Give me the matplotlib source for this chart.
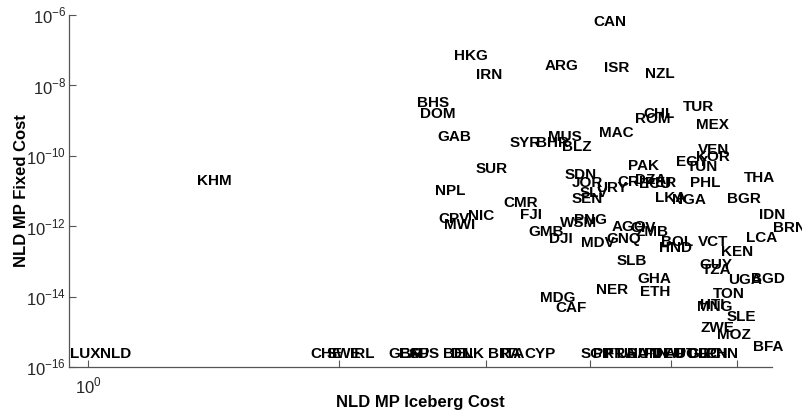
import matplotlib
matplotlib.use("Agg")
import matplotlib.pyplot as plt

plt.rcParams['font.family'] = ['Liberation Sans', 'DejaVu Sans']
plt.rcParams['mathtext.fontset'] = 'custom'
plt.rcParams['mathtext.rm'] = 'Liberation Sans'

# country codes, iceberg cost (x) and fixed cost (y)
countries = ['KHM', 'CAN', 'HKG', 'IRN', 'ARG', 'ISR', 'NZL', 'BHS', 'DOM', 'GAB',
             'SYR', 'BHR', 'MUS', 'BLZ', 'MAC', 'CHL', 'ROM', 'TUR', 'MEX', 'VEN',
             'KOR', 'EGY', 'TUN', 'PAK', 'SDN', 'JOR', 'SLV', 'URY', 'SEN', 'CRI',
             'DZA', 'PER', 'ECU', 'LKA', 'NGA', 'PHL', 'THA', 'BGR', 'SUR', 'NPL',
             'CMR', 'CPV', 'MWI', 'NIC', 'FJI', 'GMB', 'DJI', 'PNG', 'WSM', 'MDV',
             'AGO', 'GNQ', 'ZMB', 'CIV', 'BOL', 'HND', 'VCT', 'KEN', 'IDN', 'BRN',
             'LCA', 'SLB', 'GUY', 'TZA', 'UGA', 'BGD', 'GHA', 'ETH', 'NER', 'TON',
             'MNG', 'HTI', 'MDG', 'CAF', 'SLE', 'ZWE', 'MOZ', 'BFA']
iceberg = [1.416, 4.23, 2.88, 3.03, 3.70, 4.30, 4.85, 2.59, 2.63, 2.75,
           3.34, 3.61, 3.73, 3.86, 4.30, 4.84, 4.75, 5.39, 5.60, 5.62,
           5.62, 5.30, 5.46, 4.64, 3.90, 3.97, 4.04, 4.25, 3.97, 4.47,
           4.73, 4.86, 4.79, 5.00, 5.26, 5.49, 6.38, 6.12, 3.05, 2.72,
           3.30, 2.75, 2.79, 2.96, 3.40, 3.54, 3.69, 4.00, 3.87, 4.09,
           4.45, 4.39, 4.75, 4.63, 5.08, 5.07, 5.62, 6.00, 6.61, 6.93,
           6.43, 4.49, 5.66, 5.67, 6.13, 6.54, 4.77, 4.79, 4.25, 5.87,
           5.65, 5.60, 3.66, 3.79, 6.08, 5.69, 5.95, 6.54]
fixed = [1.92e-11, 6.3e-7, 6.84e-8, 1.97e-8, 3.56e-8, 3.12e-8, 2.11e-8, 3.16e-9, 1.54e-9, 3.42e-10,
         2.31e-10, 2.31e-10, 3.42e-10, 1.78e-10, 4.45e-10, 1.54e-9, 1.11e-9, 2.43e-9, 7.50e-10, 1.46e-10,
         9.25e-11, 6.67e-11, 4.81e-11, 5.13e-11, 2.85e-11, 1.69e-11, 8.77e-12, 1.22e-11, 5.93e-12, 1.80e-11,
         2.06e-11, 1.69e-11, 1.58e-11, 6.32e-12, 5.54e-12, 1.69e-11, 2.34e-11, 5.93e-12, 4.22e-11, 1.0e-11,
         4.56e-12, 1.60e-12, 1.08e-12, 1.95e-12, 2.08e-12, 6.84e-13, 4.32e-13, 1.50e-12, 1.23e-12, 3.33e-13,
         9.48e-13, 4.32e-13, 6.84e-13, 8.89e-13, 3.56e-13, 2.40e-13, 3.56e-13, 1.85e-13, 2.08e-12, 8.89e-13,
         4.62e-13, 1.03e-13, 7.91e-14, 5.70e-14, 2.96e-14, 3.16e-14, 3.16e-14, 1.35e-14, 1.54e-14, 1.19e-14,
         5.07e-15, 5.77e-15, 9.12e-15, 4.74e-15, 2.63e-15, 1.28e-15, 8.11e-16, 3.70e-16]

# countries with (near) zero fixed cost, drawn along the floor
floor_countries = ['LUX', 'NLD', 'CHE', 'SWE', 'IRL', 'GBR', 'ESP', 'AUS', 'BEL', 'DNK',
                   'BRA', 'ITA', 'CYP', 'SGP', 'PRT', 'FRA', 'USA', 'HUN', 'FIN', 'DEU',
                   'AUT', 'POL', 'GRC', 'JPN', 'CHN']
floor_iceberg = [0.992, 1.08, 1.934, 2.03, 2.13, 2.40, 2.46, 2.53, 2.78, 2.85,
                 3.16, 3.23, 3.48, 4.07, 4.20, 4.35, 4.49, 4.64, 4.80, 4.96,
                 5.13, 5.30, 5.48, 5.63, 5.76]
floor_fixed = 2.3e-16

xticks = [1, 2, 3, 4, 5, 6]
xticklabels = ['$10^{0}$', '', '', '', '', '']
yticks = [1e-16, 1e-14, 1e-12, 1e-10, 1e-8, 1e-6]
yticklabels = ['$10^{-16}$', '$10^{-14}$', '$10^{-12}$', '$10^{-10}$', '$10^{-8}$', '$10^{-6}$']

fig = plt.figure(figsize=(8.02, 4.19), dpi=100)
ax = fig.add_axes([0.086, 0.1241, 0.8766, 0.8401])
ax.set_xscale('log')
ax.set_yscale('log')
ax.set_xlim(0.949, 6.61)
ax.set_ylim(1e-16, 1e-6)

for name, x, y in zip(countries, iceberg, fixed):
    ax.text(x, y, name, ha='center', va='center', fontsize=11,
            fontweight='bold', color='black', clip_on=False)
for name, x in zip(floor_countries, floor_iceberg):
    ax.text(x, floor_fixed, name, ha='center', va='center', fontsize=11,
            fontweight='bold', color='black', clip_on=False)

ax.set_xticks(xticks)
ax.set_xticklabels(xticklabels)
ax.set_yticks(yticks)
ax.set_yticklabels(yticklabels)
ax.minorticks_off()
ax.tick_params(direction='in', length=5, width=0.8, colors='#555555',
               labelcolor='#262626', labelsize=12)
ax.tick_params(axis='x', pad=6)
ax.tick_params(axis='y', pad=2)

for side in ['top', 'right']:
    ax.spines[side].set_visible(False)
for side in ['left', 'bottom']:
    ax.spines[side].set_color('#555555')
    ax.spines[side].set_linewidth(0.9)

ax.set_xlabel('NLD MP Iceberg Cost', fontsize=12, fontweight='bold', va='center')
ax.set_ylabel('NLD MP Fixed Cost', fontsize=12, fontweight='bold', va='center')
ax.xaxis.set_label_coords(0.5, -0.102)
ax.yaxis.set_label_coords(-0.067, 0.5)

fig.savefig('out.png', dpi=100)
